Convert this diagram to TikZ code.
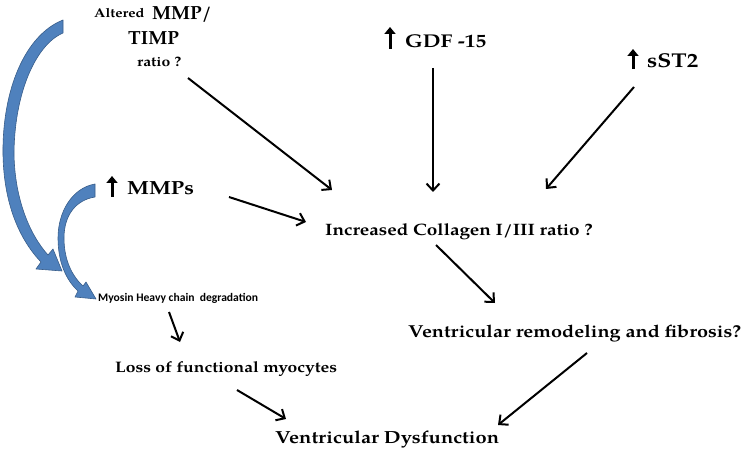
\documentclass[tikz,border=0pt]{standalone}
\usepackage{fontspec}
\setmainfont[FakeStretch=1.15]{TeX Gyre Pagella}
\newfontfamily\plainpag{TeX Gyre Pagella}
\newfontfamily\calib{Carlito}
\usetikzlibrary{arrows.meta}
\definecolor{bandblue}{RGB}{79,129,189}
\definecolor{banddark}{RGB}{56,93,138}
\tikzset{
  lbl/.style={anchor=base west, inner sep=0pt, font=\bfseries},
  conn/.style={line width=2pt, -{Straight Barb[length=7pt,width=13pt,line width=2pt]}},
  uparr/.style={line width=3pt, -{Triangle[length=7pt,width=11pt]}},
  band/.style={fill=bandblue, draw=banddark, line width=0.6pt, line join=round}
}
\begin{document}
\begin{tikzpicture}[x=1pt,y=-1pt]
\useasboundingbox (0,0) rectangle (744,457);
% texts
\node[lbl, font=\bfseries\fontsize{12.7}{15}\selectfont] (alt) at (94,18) {Altered};
\node[lbl, font=\plainpag\bfseries\fontsize{19}{22}\selectfont] (mmp) at (152,20) {MMP/};
\node[lbl, font=\plainpag\bfseries\fontsize{19}{22}\selectfont] (timp) at (128,45) {TIMP};
\node[lbl, font=\bfseries\fontsize{13.7}{16}\selectfont] (ratio) at (137,67) {ratio ?};
\node[lbl, font=\bfseries\fontsize{18.5}{22}\selectfont] (gdf) at (405,48) {GDF -15};
\node[lbl, font=\bfseries\fontsize{20}{24}\selectfont] (sst) at (647,68) {sST2};
\node[lbl, font=\bfseries\fontsize{19}{22}\selectfont] (mmps) at (127,195) {MMPs};
\node[lbl, font=\bfseries\fontsize{16.5}{20}\selectfont] (coll) at (325,235) {Increased Collagen I/III ratio ?};
\node[lbl, font=\bfseries\fontsize{17.3}{21}\selectfont] (remod) at (408,337) {Ventricular remodeling and fibrosis?};
\node[lbl, font=\calib\bfseries\fontsize{11.6}{14}\selectfont] (myo) at (98,301) {Myosin Heavy chain\ \ degradation};
\node[lbl, font=\bfseries\fontsize{15.2}{18}\selectfont] (loss) at (115,372) {Loss of functional myocytes};
\node[lbl, font=\bfseries\fontsize{17.5}{21}\selectfont] (dys) at (275,443) {Ventricular Dysfunction};
% up arrows
\draw[uparr] (390,49) -- (390,27);
\draw[uparr] (633,69) -- (633,49);
\draw[uparr] (112,197) -- (112,176);
% connector end points
\coordinate (r1) at (188,78);  \coordinate (c1) at (332,190);
\coordinate (g1) at (433,68);  \coordinate (c2) at (433,192);
\coordinate (s1) at (634,87);  \coordinate (c3) at (546,189);
\coordinate (m1) at (229,197); \coordinate (c4) at (306,222);
\coordinate (c5) at (436,245); \coordinate (v1) at (495,303);
\coordinate (v2) at (587,353); \coordinate (d1) at (498,425);
\coordinate (y1) at (169,312); \coordinate (l1) at (180,342);
\coordinate (l2) at (237,390); \coordinate (d2) at (286,419);
\draw[conn] (r1) -- (c1);
\draw[conn] (g1) -- (c2);
\draw[conn] (s1) -- (c3);
\draw[conn] (m1) -- (c4);
\draw[conn] (c5) -- (v1);
\draw[conn] (v2) -- (d1);
\draw[conn] (y1) -- (l1);
\draw[conn] (l2) -- (d2);
% big blue curved arrow
\draw[band] (63,20) .. controls (25,35) and (2,90) .. (3,155)
  .. controls (4,205) and (20,240) .. (41,262)
  -- (36,269) -- (62,271) -- (53,249) -- (48,255)
  .. controls (30,235) and (15,200) .. (14,155)
  .. controls (14,95) and (35,45) .. (63,33) -- cycle;
% small blue curved arrow
\draw[band] (95,184) .. controls (72,188) and (58,212) .. (58,238)
  .. controls (58,262) and (66,280) .. (78,291)
  -- (75,297) -- (96,299) -- (86,282) -- (83,286)
  .. controls (72,276) and (64,260) .. (64,238)
  .. controls (64,215) and (76,200) .. (95,197) -- cycle;
\end{tikzpicture}
\end{document}
